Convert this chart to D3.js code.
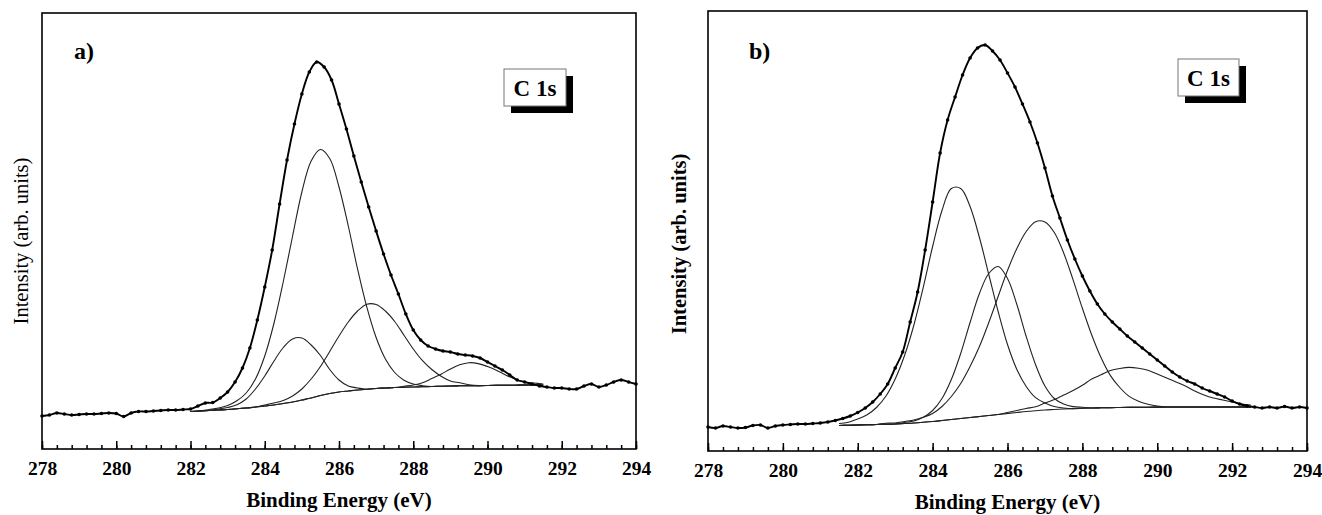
<!DOCTYPE html>
<html>
<head>
<meta charset="utf-8">
<script src="https://cdn.jsdelivr.net/npm/d3@7"></script>
<style>
  body { margin: 0; background: #fff; }
  text { font-family: "Liberation Serif", "Times New Roman", serif; }
</style>
</head>
<body>
<div id="chart"></div>
<script>
// x axis ticks (binding energy, eV)
const xTicks = [278, 280, 282, 284, 286, 288, 290, 292, 294];

// measured C 1s spectrum, both samples share the same energy scan
const energyScan = [278.0,278.2,278.4,278.6,278.8,279.0,279.2,279.4,279.6,279.8,
  280.0,280.2,280.4,280.6,280.8,281.0,281.2,281.4,281.6,281.8,
  282.0,282.2,282.4,282.6,282.8,283.0,283.2,283.4,283.6,283.8,
  284.0,284.2,284.4,284.6,284.8,285.0,285.2,285.4,285.6,285.8,
  286.0,286.2,286.4,286.6,286.8,287.0,287.2,287.4,287.6,287.8,
  288.0,288.2,288.4,288.6,288.8,289.0,289.2,289.4,289.6,289.8,
  290.0,290.2,290.4,290.6,290.8,291.0,291.2,291.4,291.6,291.8,
  292.0,292.2,292.4,292.6,292.8,293.0,293.2,293.4,293.6,293.8,
  294.0];

const countsA = [33,34,36,35,34,34.5,35,35,35.5,36,
  35.5,32.5,36,37.5,37.5,38,38.5,39,39,39.5,
  40,43,46,46.5,51,57,67,81,101,129,
  162,199,245,289,325,355,377,387,382,369,
  345,320,293,267,242,218,195,174,155,135,
  119,109,103,100,98,97,95,94,93,91,
  87,83,79,74,69,67,65,63,62,61,
  61,60,60,63,65,62,64,67,69,67,
  65];

const countsB = [24,23,25,24,23,23.5,25.5,26,23,25,
  26,26.5,27,27,27.5,28,29,30.5,32.5,35,
  38.5,43,49,57,67,83,99,129,159,201,
  249,298,331,354,376,393,403,406,400,391,
  378,364,347,329,308,283,255,233,211,192,
  175,160,147,137,129,122,115,109,103,97,
  91,85,79,74,70,67,63,60,57,54,
  50,47,45,44,43,44,43,44.5,43,44,
  43];

// fit grid, background and fitted components (height above background), sample a
const gridA = [282,282.25,282.5,282.75,283,283.25,283.5,283.75,284,284.25,
  284.5,284.75,285,285.25,285.5,285.75,286,286.25,286.5,286.75,
  287,287.25,287.5,287.75,288,288.25,288.5,288.75,289,289.25,
  289.5,289.75,290,290.25,290.5,290.75,291,291.25,291.5];
const bgA = [37.5,38,38.5,39,39.5,40.2,41,42,43,44,
  45.5,47,49,51,53.5,55.5,57,58,59,59.8,
  60.5,61,61.5,61.8,62,62.3,62.5,62.8,63,63.2,
  63.3,63.4,63.5,63.6,63.7,63.8,64,64,64];
const peak1A = [0,0,1,2,4,8,15,28,50,82,
  122,166,208,237,246,235,205,165,121,82,
  51,29,15,7,3,1,0,0,0,0,
  0,0,0,0,0,0,0,0,0];
const peak2A = [0,0,0,1,2,4,9,18,30,44,
  56,63,62,53,40,24,12,5,2,0,
  0,0,0,0,0,0,0,0,0,0,
  0,0,0,0,0,0,0,0,0];
const peak3A = [0,0,0,0,0,0,0,0,1,2,
  3,6,11,19,29,42,56,69,79,85,
  84,77,66,52,38,26,17,10,5,3,
  1,0,0,0,0,0,0,0,0];
const peak4A = [0,0,0,0,0,0,0,0,0,0,
  0,0,0,0,0,0,0,0,0,0,
  0,0,0,1,2,4,8,12,17,21,
  23,22,19,15,10,6,3,2,1];

// sample b
const gridB = [281.5,281.75,282,282.25,282.5,282.75,283,283.25,283.5,283.75,
  284,284.25,284.5,284.75,285,285.25,285.5,285.75,286,286.25,
  286.5,286.75,287,287.25,287.5,287.75,288,288.25,288.5,288.75,
  289,289.25,289.5,289.75,290,290.25,290.5,290.75,291,291.25,
  291.5,291.75,292,292.25,292.5];
const bgB = [25.5,25.8,26,26.2,26.5,26.7,27,27.5,28,28.7,
  29.5,30.5,31.5,32.5,33.5,34.5,35.5,36.5,37.5,38.5,
  39.5,40.3,41,41.5,42,42.4,42.7,43,43.2,43.4,
  43.5,43.6,43.7,43.8,43.9,44,44,44,44,44,
  44,44,44,44,44];
const peak1B = [2,3,6,10,17,28,45,68,98,135,
  175,210,231,230,211,179,141,103,69,43,
  25,13,7,3,1,0,0,0,0,0,
  0,0,0,0,0,0,0,0,0,0,
  0,0,0,0,0];
const peak2B = [0,0,0,0,0,0,0,1,2,5,
  11,22,40,65,95,123,142,148,135,108,
  75,46,24,11,5,2,1,0,0,0,
  0,0,0,0,0,0,0,0,0,0,
  0,0,0,0,0];
const peak3B = [0,0,0,0,0,1,1,2,3,5,
  8,14,23,35,51,70,93,118,143,164,
  180,189,188,177,156,129,100,73,50,32,
  20,11,6,3,1,0,0,0,0,0,
  0,0,0,0,0];
const peak4B = [0,0,0,0,0,0,0,0,0,0,
  0,0,0,0,0,0,0,0,1,2,
  3,4,7,10,14,18,23,29,33,37,
  39,40,39,37,33,29,25,21,16,12,
  9,7,5,3,2];

const panels = [
  {tag: 'a)', counts: countsA, grid: gridA, bg: bgA, peaks: [peak1A, peak2A, peak3A, peak4A],
   left: 42, right: 636, top: 13, bottom: 449, ymax: 436,
   tagX: 74, tagY: 59, yTitleX: 28, yTitleY: 241, yTitleWeight: 'normal',
   box: {x: 504, y: 69, w: 62, h: 37}, titleY: 507},
  {tag: 'b)', counts: countsB, grid: gridB, bg: bgB, peaks: [peak1B, peak2B, peak3B, peak4B],
   left: 708, right: 1307, top: 11, bottom: 451, ymax: 440,
   tagX: 749, tagY: 59, yTitleX: 686, yTitleY: 244, yTitleWeight: 'bold',
   box: {x: 1178, y: 59, w: 61, h: 37}, titleY: 509}
];

const svg = d3.select('#chart').append('svg')
  .attr('width', 1322)
  .attr('height', 515)
  .style('background', '#fff');

panels.forEach(function(p) {
  const x = d3.scaleLinear().domain([278, 294]).range([p.left, p.right]);
  const y = d3.scaleLinear().domain([0, p.ymax]).range([p.bottom, p.top]);
  const g = svg.append('g');

  const smooth = d3.line()
    .x(d => x(d[0]))
    .y(d => y(d[1]))
    .curve(d3.curveCatmullRom.alpha(0.5));

  // background + fitted components
  g.append('path')
    .attr('d', smooth(p.grid.map((e, i) => [e, p.bg[i]])))
    .attr('fill', 'none').attr('stroke', '#222').attr('stroke-width', 1.1);

  p.peaks.forEach(function(pk) {
    g.append('path')
      .attr('d', smooth(p.grid.map((e, i) => [e, p.bg[i] + pk[i]])))
      .attr('fill', 'none').attr('stroke', '#222').attr('stroke-width', 1.1);
  });

  // measured points
  const scan = energyScan.map((e, i) => [e, p.counts[i]]);
  g.append('path')
    .attr('d', smooth(scan))
    .attr('fill', 'none').attr('stroke', '#000').attr('stroke-width', 1.9);
  g.selectAll('circle.pt')
    .data(scan)
    .join('circle')
      .attr('class', 'pt')
      .attr('cx', d => x(d[0]))
      .attr('cy', d => y(d[1]))
      .attr('r', 1.8)
      .attr('fill', '#000');

  // frame
  g.append('rect')
    .attr('x', p.left).attr('y', p.top)
    .attr('width', p.right - p.left).attr('height', p.bottom - p.top)
    .attr('fill', 'none').attr('stroke', '#000').attr('stroke-width', 1.6);

  // minor ticks pointing inwards
  g.append('g')
    .attr('transform', `translate(0,${p.bottom})`)
    .call(d3.axisBottom(x).tickValues(d3.range(278, 294.01, 0.4)).tickSize(-4).tickFormat(''))
    .call(a => a.select('.domain').remove())
    .call(a => a.selectAll('line').attr('stroke', '#000').attr('stroke-width', 1.5));

  // major ticks + labels
  g.append('g')
    .attr('transform', `translate(0,${p.bottom})`)
    .call(d3.axisBottom(x).tickValues(xTicks).tickSize(-8).tickPadding(12).tickFormat(d3.format('d')))
    .call(a => a.select('.domain').remove())
    .call(a => a.selectAll('line').attr('stroke', '#000').attr('stroke-width', 1.5))
    .call(a => a.selectAll('text')
      .attr('fill', '#000')
      .style('font-family', '"Liberation Serif", serif')
      .style('font-size', '19.5px')
      .style('font-weight', 'bold'));

  // axis titles
  g.append('text')
    .attr('x', (p.left + p.right) / 2)
    .attr('y', p.titleY)
    .attr('text-anchor', 'middle')
    .style('font-size', '21px')
    .style('font-weight', 'bold')
    .text('Binding Energy (eV)');

  g.append('text')
    .attr('transform', `translate(${p.yTitleX},${p.yTitleY}) rotate(-90)`)
    .attr('text-anchor', 'middle')
    .style('font-size', '20.5px')
    .style('font-weight', p.yTitleWeight)
    .text('Intensity (arb. units)');

  // panel tag
  g.append('text')
    .attr('x', p.tagX).attr('y', p.tagY)
    .style('font-size', '24px')
    .style('font-weight', 'bold')
    .text(p.tag);

  // "C 1s" box with drop shadow
  g.append('rect')
    .attr('x', p.box.x + 7).attr('y', p.box.y + 7)
    .attr('width', p.box.w).attr('height', p.box.h)
    .attr('fill', '#000');
  g.append('rect')
    .attr('x', p.box.x).attr('y', p.box.y)
    .attr('width', p.box.w).attr('height', p.box.h)
    .attr('fill', '#fff').attr('stroke', '#777').attr('stroke-width', 1);
  g.append('text')
    .attr('x', p.box.x + p.box.w / 2)
    .attr('y', p.box.y + p.box.h / 2 + 8)
    .attr('text-anchor', 'middle')
    .style('font-size', '23px')
    .style('font-weight', 'bold')
    .text('C 1s');
});
</script>
</body>
</html>
